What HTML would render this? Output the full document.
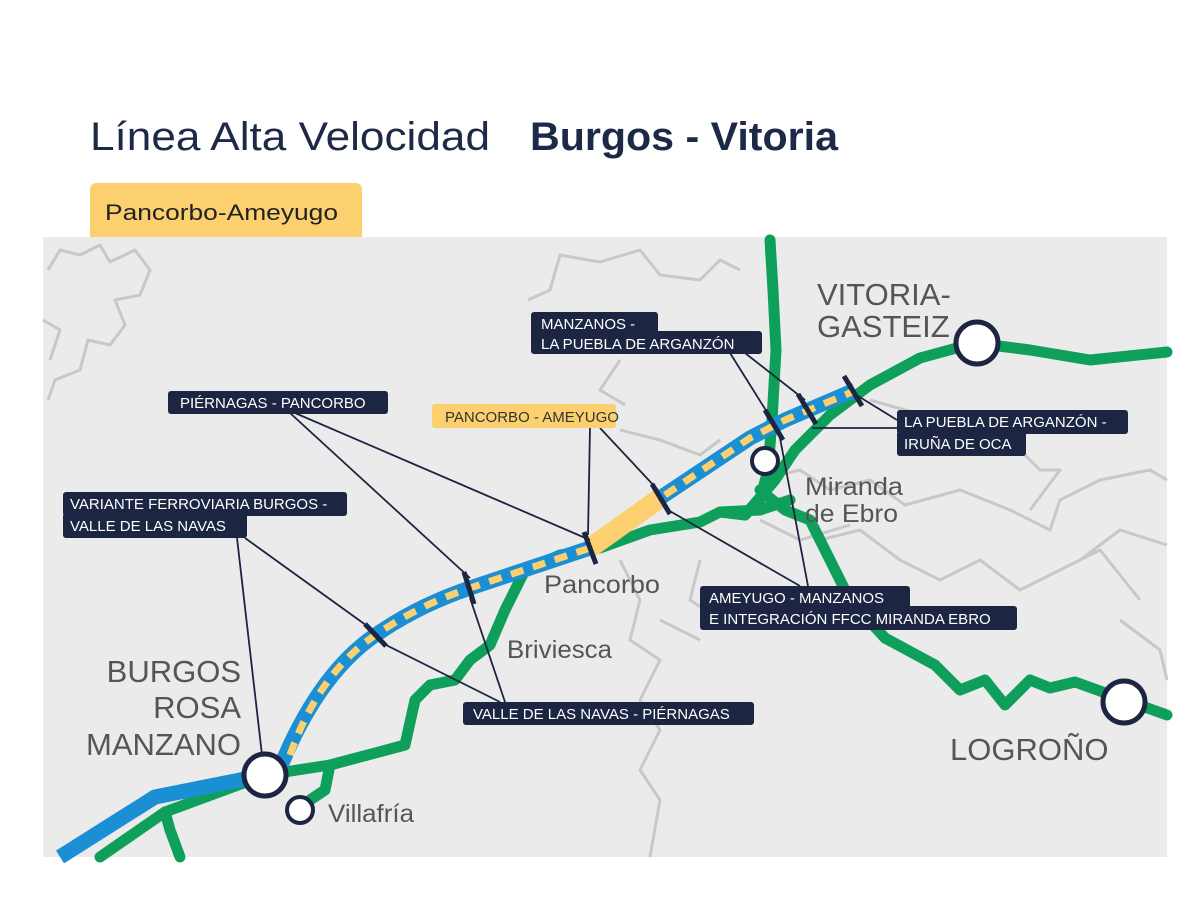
<!DOCTYPE html>
<html><head><meta charset="utf-8"><style>
body{margin:0;background:#fff;width:1200px;height:900px;overflow:hidden;font-family:"Liberation Sans",sans-serif}
</style></head><body>
<svg width="1200" height="900" viewBox="0 0 1200 900" xmlns="http://www.w3.org/2000/svg" font-family="Liberation Sans, sans-serif">
<text x="90" y="150" font-size="40" fill="#1c2a48" font-weight="300" textLength="400" lengthAdjust="spacingAndGlyphs">Línea Alta Velocidad</text>
<text x="530" y="150" font-size="40" fill="#1c2a48" font-weight="bold" textLength="308" lengthAdjust="spacingAndGlyphs">Burgos - Vitoria</text>
<path d="M90,237 V190 Q90,183 97,183 H355 Q362,183 362,190 V237 Z" fill="#fcd06e"/>
<text x="105" y="220" font-size="22" fill="#222" textLength="233" lengthAdjust="spacingAndGlyphs">Pancorbo-Ameyugo</text>
<rect x="43" y="237" width="1124" height="620" fill="#ebebeb"/>
<g fill="none" stroke="#c8c8c8" stroke-width="3" stroke-linejoin="round">
<path d="M48,270 L60,250 L80,255 L100,245 L110,262 L135,250 L150,270 L140,295 L115,300 L125,325 L110,345 L88,340 L80,370 L55,380 L48,400"/>
<path d="M43,320 L60,330 L50,360"/>
<path d="M528,300 L550,290 L560,255 L600,262 L640,250 L660,275 L700,280 L720,260 L740,270"/>
<path d="M620,360 L600,390 L625,405"/>
<path d="M620,430 L660,440 L700,455 L720,440"/>
<path d="M760,480 L800,470 L830,490 L870,480 L905,505 L960,490 L1010,510 L1050,530 L1060,500 L1100,480 L1150,470 L1167,480"/>
<path d="M870,400 L940,420 L1000,440"/>
<path d="M1010,440 L1040,470 L1060,470 L1030,510"/>
<path d="M820,540 L860,530 L900,560 L940,580 L980,560 L1020,590 L1060,570 L1100,550 L1140,600"/>
<path d="M1080,560 L1120,530 L1167,545"/>
<path d="M620,560 L640,600 L630,640 L660,660 L640,700 L660,730 L640,770 L660,800 L650,857"/>
<path d="M700,560 L690,600 L720,620"/>
<path d="M760,520 L800,540 L850,525"/>
<path d="M1120,620 L1160,650 L1167,680"/>
<path d="M660,620 L700,640"/>
</g>
<g fill="none" stroke="#0ea05a" stroke-width="11" stroke-linecap="round" stroke-linejoin="round">
<path d="M100,857 L165,812 L265,775 L330,765 L405,745 L415,700 L430,685 L455,680 L470,660 L490,645 L505,610 L525,570 L560,555 L600,548 L650,530 L700,522 L720,512 L745,515 L775,480 L795,450 L830,415 L870,385 L920,358 L975,343 L1030,350 L1090,360 L1167,352"/>
<path d="M770,240 L773,290 L776,350 L772,420 L768,470 L760,500 L745,515"/>
<path d="M760,490 L785,510 L810,520 L830,560 L850,600 L885,638 L935,665 L960,690 L985,680 L1005,705 L1030,680 L1050,688 L1075,682 L1125,700 L1167,715"/>
<path d="M720,512 L760,510 L790,500"/>
<path d="M330,765 L325,790 L310,800"/>
<path d="M165,812 L170,830 L180,857"/>
</g>
<path d="M590,548 L660,498" stroke="#fcd06e" stroke-width="20" fill="none"/>
<g fill="none" stroke-linejoin="round">
<path d="M60,857 L155,797 L265,775" stroke="#1b8fd3" stroke-width="15"/>
<path d="M280,768 Q320,670 380,632 Q420,605 470,588 L590,548" stroke="#1b8fd3" stroke-width="15"/>
<path d="M660,498 L750,438 L785,420 L855,390" stroke="#1b8fd3" stroke-width="15"/>
<path d="M290,755 Q320,670 380,632 Q420,605 470,588 L590,548" stroke="#fcd06e" stroke-width="7" stroke-dasharray="13 10"/>
<path d="M665,495 L750,438 L785,420 L852,392" stroke="#fcd06e" stroke-width="7" stroke-dasharray="13 10"/>
</g>
<g stroke="#1c2541" stroke-width="1.8" fill="none">
<path d="M290,413 L470,578 M295,413 L590,540"/>
<path d="M590,428 L588,535 M600,428 L658,490"/>
<path d="M237,538 L262,755 M245,538 L370,628"/>
<path d="M505,702 L470,598 M500,702 L380,642"/>
<path d="M730,353 L772,420 M745,353 L805,400"/>
<path d="M897,428 L812,428 M897,420 L858,396"/>
<path d="M800,586 L668,510 M808,586 L780,438"/>
</g>
<g stroke="#1c2541" stroke-width="5">
<path d="M365,624 L386,646"/><path d="M464,572 L474,604"/><path d="M584,532 L596,564"/>
<path d="M652,484 L670,514"/><path d="M765,410 L783,440"/><path d="M798,394 L816,424"/><path d="M844,376 L862,406"/>
</g>
<g fill="#fff" stroke="#1c2541">
<circle cx="265" cy="775" r="21" stroke-width="5"/>
<circle cx="300" cy="810" r="13" stroke-width="4"/>
<circle cx="765" cy="461" r="13" stroke-width="4"/>
<circle cx="977" cy="343" r="21" stroke-width="5"/>
<circle cx="1124" cy="702" r="21" stroke-width="5"/>
</g>
<g fill="#1c2541">
<rect x="531" y="312" width="127" height="24" rx="3"/><rect x="531" y="331" width="231" height="23" rx="3"/>
<rect x="168" y="391" width="220" height="23" rx="3"/>
<rect x="63" y="492" width="284" height="24" rx="3"/><rect x="63" y="513" width="184" height="25" rx="3"/>
<rect x="897" y="410" width="231" height="24" rx="3"/><rect x="897" y="431" width="129" height="25" rx="3"/>
<rect x="700" y="586" width="210" height="24" rx="3"/><rect x="700" y="606" width="317" height="24" rx="3"/>
<rect x="463" y="702" width="291" height="23" rx="3"/>
</g>
<rect x="432" y="404" width="184" height="24" rx="3" fill="#fcd06e"/>
<g font-size="15" fill="#fff">
<text x="541" y="329">MANZANOS -</text><text x="541" y="349">LA PUEBLA DE ARGANZÓN</text>
<text x="180" y="408">PIÉRNAGAS - PANCORBO</text>
<text x="70" y="509">VARIANTE FERROVIARIA BURGOS -</text><text x="70" y="531">VALLE DE LAS NAVAS</text>
<text x="904" y="427">LA PUEBLA DE ARGANZÓN -</text><text x="904" y="449">IRUÑA DE OCA</text>
<text x="709" y="603">AMEYUGO - MANZANOS</text><text x="709" y="624">E INTEGRACIÓN FFCC MIRANDA EBRO</text>
<text x="473" y="719">VALLE DE LAS NAVAS - PIÉRNAGAS</text>
<text x="445" y="422" fill="#333">PANCORBO - AMEYUGO</text>
</g>
<g fill="#555" font-size="25">
<text x="544" y="593" textLength="116" lengthAdjust="spacingAndGlyphs">Pancorbo</text>
<text x="507" y="658" textLength="105" lengthAdjust="spacingAndGlyphs">Briviesca</text>
<text x="328" y="822" textLength="86" lengthAdjust="spacingAndGlyphs">Villafría</text>
<text x="805" y="495" textLength="98" lengthAdjust="spacingAndGlyphs">Miranda</text><text x="805" y="522" textLength="93" lengthAdjust="spacingAndGlyphs">de Ebro</text>
</g>
<g fill="#555" font-size="31" font-weight="300">
<text x="241" y="682" text-anchor="end">BURGOS</text>
<text x="241" y="718" text-anchor="end">ROSA</text>
<text x="241" y="755" text-anchor="end">MANZANO</text>
<text x="817" y="305">VITORIA-</text><text x="817" y="337">GASTEIZ</text>
<text x="950" y="760">LOGROÑO</text>
</g>
</svg>
</body></html>
